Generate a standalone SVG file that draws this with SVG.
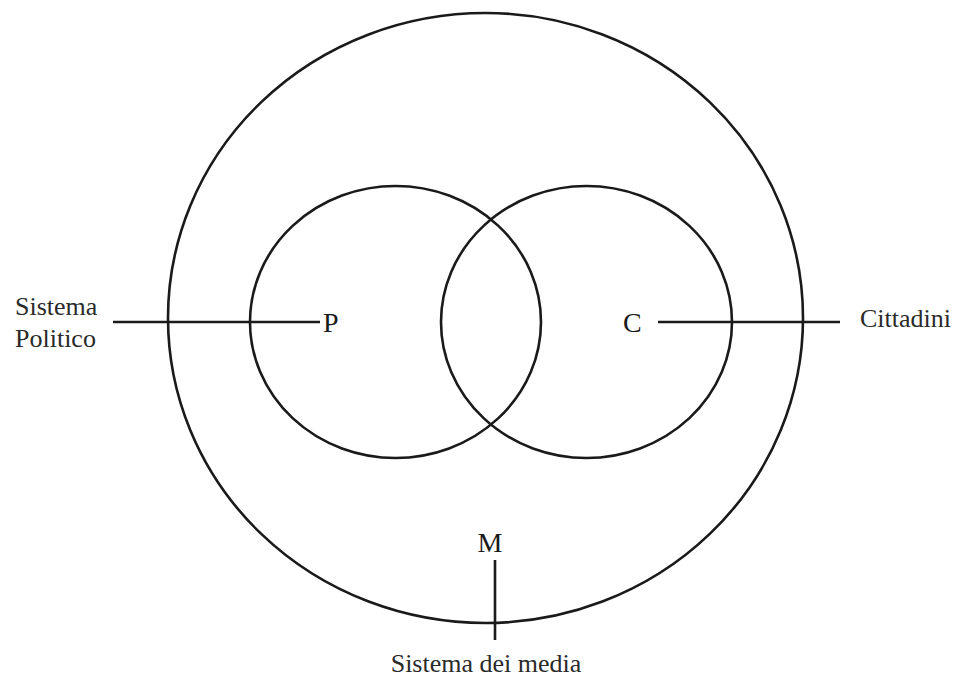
<svg xmlns="http://www.w3.org/2000/svg" width="964" height="682" viewBox="0 0 964 682">
<style>
.c{fill:none;stroke:#1a1a1a;stroke-width:2.6}
.l{stroke:#1a1a1a;stroke-width:2.6}
.t{font-family:"Liberation Serif","Times New Roman",serif;font-size:26px;fill:#2a2a2a}
.b{font-family:"Liberation Serif","Times New Roman",serif;font-size:28px;fill:#1a1a1a}
</style>
<rect width="964" height="682" fill="#fff"/>
<g id="media">
<ellipse class="c" cx="485.5" cy="318" rx="317.5" ry="305"/>
<text class="b" x="490" y="552" text-anchor="middle">M</text>
</g>
<g id="politico">
<ellipse class="c" cx="395.5" cy="322" rx="145.5" ry="136"/>
<text class="b" x="323" y="332">P</text>
</g>
<g id="cittadini">
<ellipse class="c" cx="586.5" cy="322" rx="145.5" ry="136"/>
<text class="b" x="623" y="332">C</text>
</g>
<g id="connectors">
<line class="l" x1="113" y1="322" x2="320" y2="322"/>
<line class="l" x1="658" y1="322" x2="840" y2="322"/>
<line class="l" x1="495" y1="560" x2="495" y2="640"/>
</g>
<g id="labels">
<text class="t" x="15" y="315">Sistema</text>
<text class="t" x="15" y="347">Politico</text>
<text class="t" x="860" y="327">Cittadini</text>
<text class="t" x="486" y="672" text-anchor="middle">Sistema dei media</text>
</g>
</svg>
